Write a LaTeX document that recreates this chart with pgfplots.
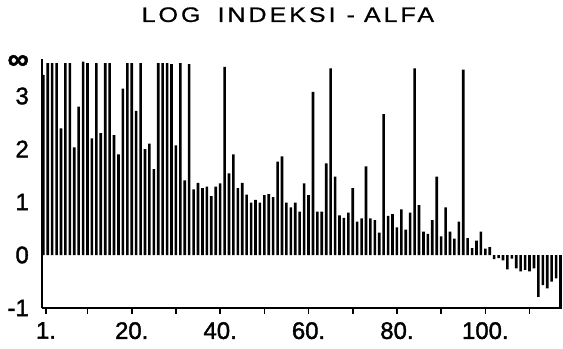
\documentclass[border=0pt]{standalone}
\usepackage{fontspec}
\setmainfont{Liberation Sans}
\newfontfamily\titlefont[LetterSpace=14, FakeBold=0.8, FakeStretch=1.2]{Liberation Sans}
\newfontfamily\tickfont[FakeBold=1.6]{Liberation Sans}
\usepackage{pgfplots}
\pgfplotsset{compat=1.18}
\usepackage{pgfplotstable}
% log alpha index per item; "infinity" drawn at about 3.62 (the infinity tick)
\pgfplotstableread{
k v
0 3.40
1 3.62
2 3.62
3 3.62
4 2.39
5 3.62
6 3.62
7 2.03
8 2.80
9 3.65
10 3.62
11 2.20
12 3.62
13 2.30
14 3.62
15 3.62
16 2.26
17 1.90
18 3.14
19 3.62
20 3.62
21 2.72
22 3.62
23 2.00
24 2.10
25 1.62
26 3.62
27 3.62
28 3.62
29 3.60
30 2.07
31 3.62
32 1.41
33 3.60
34 1.24
35 1.36
36 1.26
37 1.29
38 1.11
39 1.29
40 1.35
41 3.55
42 1.54
43 1.90
44 1.26
45 1.36
46 1.14
47 0.99
48 1.04
49 0.99
50 1.13
51 1.15
52 1.09
53 1.76
54 1.86
55 0.99
56 0.90
57 0.99
58 0.82
59 1.35
60 1.13
61 3.08
62 0.82
63 0.82
64 1.73
65 3.52
66 1.48
67 0.75
68 0.70
69 0.80
70 1.26
71 0.63
72 0.69
73 1.67
74 0.69
75 0.66
76 0.42
77 2.66
78 0.74
79 0.77
80 0.52
81 0.86
82 0.48
83 0.80
84 3.52
85 0.94
86 0.44
87 0.40
88 0.66
89 1.48
90 0.35
91 0.90
92 0.44
93 0.31
94 0.63
95 3.50
96 0.32
97 0.13
98 0.27
99 0.44
100 0.12
101 0.15
102 -0.08
103 -0.06
104 -0.10
105 -0.27
106 -0.07
107 -0.25
108 -0.31
109 -0.28
110 -0.31
111 -0.25
112 -0.79
113 -0.57
114 -0.63
115 -0.50
116 -0.44
117 -1.00
}\alfa

\begin{document}
\begin{tikzpicture}
\begin{axis}[
  scale only axis,
  width=519.8bp, height=249.1bp,
  xmin=-0.3, xmax=117.3, ymin=-1, ymax=3.7,
  ybar, bar width=2.6bp,
  axis x line*=bottom, axis y line*=left,
  axis line style={line width=1.6bp, -},
  xtick={0.6,10,20,30,40,50,60,70,80,90,100,110},
  xticklabels={1.,,20.,,40.,,60.,,80.,,100.,},
  ytick={-1,0,1,2,3,3.64},
  yticklabels={-1,0,1,2,3,{\fontsize{30}{30}\selectfont\textbf{∞}}},
  tick align=outside,
  major tick length=6bp,
  xtick style={line width=1.6bp, black},
  ytick style={draw=none},
  tick label style={font=\tickfont\fontsize{24}{24}\selectfont, inner sep=0pt},
  xticklabel style={anchor=north, yshift=-8bp},
  yticklabel style={anchor=east, xshift=-7bp},
  title={\titlefont LOG\hspace{17bp}INDEKSI\hspace{11bp}-\hspace{9bp}ALFA},
  title style={at={(0.473,1)}, anchor=base, yshift=31bp, font=\fontsize{21}{21}\selectfont, inner sep=0pt},
]
\addplot[fill=black, draw=none] table[x=k, y=v]{\alfa};
\end{axis}
\path (-42bp,-41bp) rectangle (521bp,308bp);
\end{tikzpicture}
\end{document}
